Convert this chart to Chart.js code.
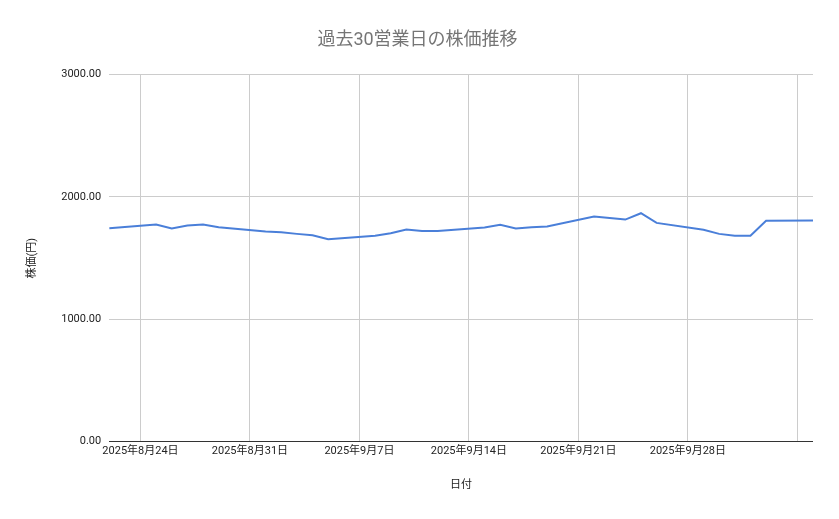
<!DOCTYPE html>
<html><head><meta charset="utf-8">
<script src="https://cdn.jsdelivr.net/npm/chart.js@4"></script>
<style>html,body{margin:0;padding:0;background:#fff}#w{width:839px;height:519px}</style>
</head><body><div id="w"><canvas id="c"></canvas></div>
<script>
const dates=["2025-08-22","2025-08-25","2025-08-26","2025-08-27","2025-08-28","2025-08-29","2025-09-01","2025-09-02","2025-09-03","2025-09-04","2025-09-05","2025-09-08","2025-09-09","2025-09-10","2025-09-11","2025-09-12","2025-09-15","2025-09-16","2025-09-17","2025-09-18","2025-09-19","2025-09-22","2025-09-23","2025-09-24","2025-09-25","2025-09-26","2025-09-29","2025-09-30","2025-10-01","2025-10-02","2025-10-03","2025-10-06"];
const prices=[1744,1774,1742,1766,1774,1753,1717,1711,1698,1687,1654,1682,1703,1733,1722,1722,1750,1772,1742,1753,1758,1840,1828,1815,1867,1788,1731,1698,1682,1682,1805,1808];
const tickDates=["2025-08-24","2025-08-31","2025-09-07","2025-09-14","2025-09-21","2025-09-28","2025-10-05"];
const tickLabels=["2025年8月24日","2025年8月31日","2025年9月7日","2025年9月14日","2025年9月21日","2025年9月28日",""];
const yTicks=[0,1000,2000,3000];
const base=Date.UTC(2025,7,22);
const dayIdx=s=>{const[a,b,c]=s.split("-").map(Number);return Math.round((Date.UTC(a,b-1,c)-base)/864e5);};
const pts=dates.map((d,i)=>({x:dayIdx(d),y:prices[i]}));
const tks=tickDates.map(dayIdx);
const F="Roboto, 'Noto Sans CJK JP', sans-serif";
new Chart(document.getElementById('c'),{type:'line',
data:{datasets:[{data:pts,borderColor:'#4a7fd9',borderWidth:2,pointRadius:0,tension:0}]},
options:{responsive:true,maintainAspectRatio:false,animation:false,
layout:{padding:{left:22,right:26,top:14,bottom:23}},
plugins:{legend:{display:false},tooltip:{enabled:false},
title:{display:true,text:'過去30営業日の株価推移',color:'#757575',font:{family:F,size:18,weight:'normal'},padding:{top:16,bottom:23}}},
scales:{
x:{type:'linear',min:0,max:dayIdx(dates[dates.length-1]),
afterBuildTicks:a=>{a.ticks=tks.map(v=>({value:v}));},
ticks:{autoSkip:false,maxRotation:0,color:'#222',font:{family:F,size:11},callback:(v)=>tickLabels[tks.indexOf(v)]??''},
grid:{color:'#cccccc',drawTicks:false},border:{display:false},
title:{display:true,text:'日付',color:'#222',font:{family:F,size:11},padding:{top:18}}},
y:{min:0,max:3000,afterBuildTicks:a=>{a.ticks=yTicks.map(v=>({value:v}));},
ticks:{color:'#222',font:{family:F,size:11},padding:8,callback:v=>v.toFixed(2)},
grid:{color:v=>v.tick&&v.tick.value===0?'#333':'#cccccc',drawTicks:false},border:{display:false},
title:{display:true,text:'株価(円)',color:'#222',font:{family:F,size:11},padding:{bottom:14}}}
}}});
</script></body></html>
